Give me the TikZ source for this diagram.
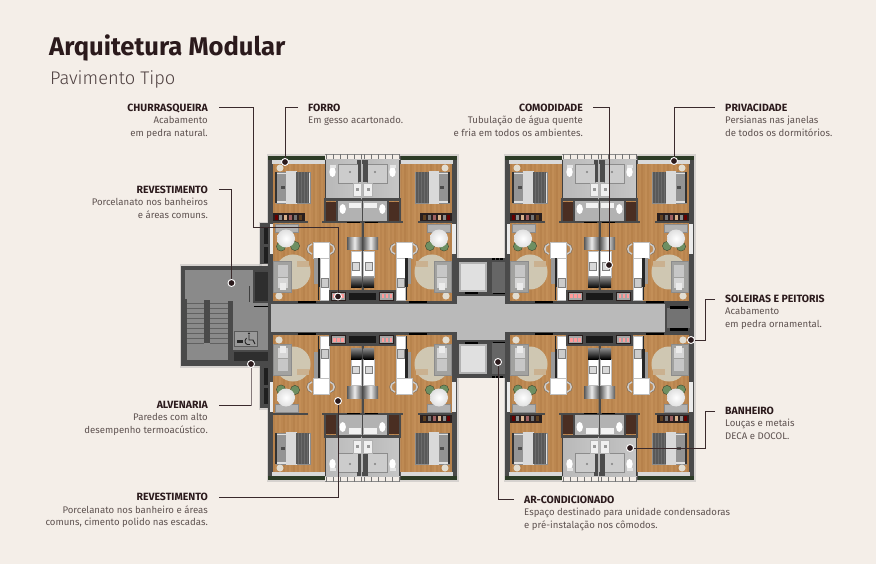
\documentclass[tikz,border=0pt]{standalone}
\usepackage{fontspec}
\setmainfont{Fira Sans}
\newfontfamily\lightf{Fira Sans Light}
\definecolor{paper}{HTML}{F4EEE8}
\definecolor{ink}{HTML}{2B1A1C}
\definecolor{bodytxt}{HTML}{5E5250}
\definecolor{leadc}{HTML}{3A2A2C}
\definecolor{leadb}{HTML}{85797A}
\definecolor{wallc}{HTML}{4A4A4A}
\definecolor{wallb}{HTML}{5E5E5E}
\definecolor{woodA}{HTML}{C49059}
\definecolor{woodB}{HTML}{B5804A}
\definecolor{concr}{HTML}{8A8A8A}
\definecolor{brownw}{HTML}{4A2E22}
\definecolor{hedge}{HTML}{2C3B26}
\definecolor{leaf}{HTML}{6E8F62}
\definecolor{rugc}{HTML}{CFC7B2}
\definecolor{sofac}{HTML}{A2A2A0}
\definecolor{shelfc}{HTML}{2A1F1E}
\tikzset{
  lead/.style={draw=leadc,line width=.8pt},
  leadlight/.style={draw=leadb,line width=1pt},
  dotm/.style={circle,fill=ink,draw=white,line width=.9pt,minimum size=7pt,inner sep=0pt},
  lblR/.style={anchor=north east,align=right,inner sep=0pt,text=bodytxt,font=\fontsize{9.6}{12.5}\selectfont},
  lblL/.style={anchor=north west,align=left,inner sep=0pt,text=bodytxt,font=\fontsize{9.6}{12.5}\selectfont}
}
\newcommand{\hd}[1]{{\color{ink}\fontsize{10.5}{12.5}\bfseries\selectfont #1}}
\newcommand{\UnitApt}[1]{%
  % shell
  \fill[wallc] (268,156) rectangle (363.5,304);
  % wood floor
  \begin{scope}
    \clip (273,164) rectangle (361.5,301);
    \foreach \i in {0,...,44}{
      \pgfmathtruncatemacro{\p}{mod(\i*37,23)*4+6}
      \fill[woodA!\p!woodB] ({273+2*\i},164) rectangle ({275.1+2*\i},301);
    }
  \end{scope}
  % hedge and sill
  \fill[hedge] (268,156) rectangle (324.5,160);
  \fill[black!15!white] (272,160) rectangle (324.5,164);
  % glass on side wall
  \fill[black!8!white] (269.5,224) rectangle (272.8,254);
  % balustrade
  \fill[paper] (325,154) rectangle (363.5,160);
  \draw[black!45,line width=.5pt] (325,154.5) -- (363.5,154.5);
  \foreach \t in {326,333,340,347,354,361}{\draw[black!55,line width=.6pt] (\t,154.5) -- (\t,160);}
  % bathroom
  \shade[left color=black!28,right color=black!22] (325,160) rectangle (363.5,200);
  \fill[black!20,draw=black!45,line width=.4pt] (338,164) rectangle (358,183);
  \fill[black!70] (357.5,164) rectangle (362,182);
  \fill[black!70] (357,160) rectangle (363.5,164);
  \fill[white] (332.5,172) ellipse (3.2pt and 5pt);
  \fill[black!10] (329.5,165) rectangle (335.5,168);
  \fill[black!50] (350,172) circle (1.2pt);
  \fill[black!6,draw=black!30,line width=.3pt] (353,183) rectangle (361.5,196);
  \fill[black!40] (355.5,188) rectangle (358.5,191);
  \fill[wallc] (324,198) rectangle (363.5,201);
  \fill[black!75] (325,160) rectangle (326.2,198);
  % washroom and wardrobe
  \fill[black!30] (337,201) rectangle (362,222);
  \fill[brownw] (326,202) rectangle (336,221);
  \fill[wallc] (336,201) rectangle (338,222);
  \fill[wallc] (324,201) rectangle (325.6,222);
  \fill[white] (342.7,209) ellipse (3.2pt and 5pt);
  \fill[black!5,draw=black!30,line width=.3pt] (348,202) rectangle (361.5,208.5);
  \fill[wallc] (322,221.5) rectangle (363.5,223.5);
  \fill[black] (347,221.8) rectangle (360,223);
  % bedroom wall, shelf
  \ifnum#1=1
    \fill[shelfc] (273,213) rectangle (305,221.5);
    \foreach \a/\c in {275/red!40!black,279/black!45,284/brown!60,289/red!25!gray,294/black!55,299/brown!50!black}{
      \fill[\c] (\a,215) rectangle ({\a+3},220);}
  \fi
  \fill[wallc] (273,221.5) rectangle (307.5,223.5);
  % bed
  \fill[black!12,draw=black!45,line width=.3pt] (276,172) rectangle (310,203);
  \fill[black!80] (275,172) rectangle (277,203);
  \fill[black!42] (277,174) rectangle (287,201);
  \fill[black!70] (281,186) rectangle (285,189);
  \fill[black!15] (286,171) rectangle (296.5,204);
  \fill[black!65] (296,172.5) rectangle (309,203);
  \foreach \t in {298,301,304,307}{\draw[black!58,line width=.4pt] (\t,172.5) -- (\t,203);}
  % corner tables
  \fill[rugc!60!white] (280,168) circle (3.5pt);
  \fill[rugc!60!white] (279,296) circle (3.6pt);
  % dining
  \fill[black!30!white,draw=black!45,line width=.3pt] (275,224) rectangle (298,232);
  \fill[leaf,draw=hedge,line width=.3pt] (281,246.5) circle (4.6pt);
  \fill[leaf,draw=hedge,line width=.3pt] (295,246) circle (4.6pt);
  \shade[inner color=white,outer color=black!12] (286,238.5) circle (9pt);
  % rug and sofa
  \fill[rugc] (293,272) circle (17.5pt);
  \fill[rugc!70!brown] (297,261) rectangle (309,267);
  \fill[sofac,draw=black!45,line width=.3pt] (273.5,261) rectangle (291,292);
  \fill[black!22] (278,265) rectangle (288,277);
  \fill[black!16] (278,278) rectangle (288,288);
  \fill[black!8] (280,283) rectangle (286,290);
  % counter with stools
  \draw[black!20,line width=1.5pt] (312,244) .. controls (306.5,245) and (306.5,253) .. (312,254);
  \draw[black!20,line width=1.5pt] (330,244) .. controls (335.5,245) and (335.5,253) .. (330,254);
  \draw[black!60,line width=.3pt] (311,243.5) .. controls (305,245) and (305,253) .. (311,254.5);
  \draw[black!60,line width=.3pt] (331,243.5) .. controls (337,245) and (337,253) .. (331,254.5);
  \fill[white,draw=black!25,line width=.3pt] (313,242) rectangle (329,258);
  \fill[white,draw=black!25,line width=.3pt] (320,258) rectangle (329,300);
  \fill[black!40] (314,258) rectangle (317.5,284);
  \fill[black!85] (317.5,258) rectangle (320,287);
  \fill[black!85] (318.3,287) rectangle (319.3,300);
  \fill[black!20,draw=black!50,line width=.3pt] (321,278) rectangle (328,287);
  % partition wall, kitchen
  \fill[wallc] (361.5,222) rectangle (363.5,292);
  \shade[left color=black!65,right color=black!65,middle color=black!8] (347,238) rectangle (362,250);
  \fill[white,draw=black!25,line width=.3pt] (351,251) rectangle (361.5,277);
  \fill[black!15,draw=black!50,line width=.4pt] (352.5,262.5) rectangle (359.5,270);
  \shade[top color=black!45,bottom color=black] (351,277) rectangle (361.5,288);
  % service strip
  \fill[wallc] (329,290.5) rectangle (363.5,304);
  \fill[shelfc] (331,292) rectangle (346,301);
  \fill[black!35] (332,293.5) rectangle (345,300);
  \foreach \a in {333,337,341}{\fill[red!40!white] (\a,294.5) rectangle ({\a+2.5},298.5);}
  \fill[black!90] (349,293) rectangle (363.5,300.5);
  \fill[black] (298,301.3) rectangle (316,303.3);
}
\newcommand{\MidRoom}{%
  \fill[wallc] (457,258) rectangle (505,296);
  \fill[black!30] (459,262) rectangle (487,292);
  \fill[black!12] (461,264) rectangle (485,290);
  \fill[black!60] (492,262) rectangle (505,293);
  \fill[black] (465,292) rectangle (478,294);
  \fill[black] (493,293) rectangle (505,294.5);
  \foreach \t in {492,496,500}{\fill[black] (\t,258) rectangle ({\t+3},260.5);}
}
\begin{document}
\begin{tikzpicture}[x=1pt,y=-1pt]
\useasboundingbox (0,0) rectangle (876,564);
\fill[paper] (0,0) rectangle (876,564);
% soft shadow
\foreach \a/\b/\c/\d in {268/156/457/480,505/156/694/480,181/266/270/366,260/224/270/408}{
  \draw[black!30,line width=3pt,opacity=.45] (\a,\b) rectangle (\c,\d);}
% stair core
\fill[wallc] (181,266) rectangle (272,366);
\fill[concr] (185,270) rectangle (270,360);
\fill[black!72] (253,270) rectangle (270,303);
\fill[black!82] (255,272) rectangle (268.5,301);
\foreach \s in {303,308,...,343}{
  \draw[black!62,line width=.4pt] (186,\s) -- (204,\s);
  \draw[black!62,line width=.4pt] (210,\s) -- (228,\s);}
\fill[wallc] (204,300) rectangle (210,343);
\fill[wallc] (228,301) rectangle (233,360);
\fill[wallc] (185,299) rectangle (186.5,360);
\fill[wallc] (185,360) rectangle (272,366);
\fill[wallc] (232,350) rectangle (272,362);
\fill[black!82] (234,351.5) rectangle (269,361);
\fill[black!40,draw=black!65,line width=.5pt] (234.5,331) rectangle (257,346);
\draw[black!85,line width=.9pt] (249,335) -- (249,340) -- (253,340) -- (255,344);
\draw[black!85,line width=.9pt] (246.5,338) .. controls (243,341) and (246,346) .. (250,344.5);
\fill[black!85] (249,333.5) circle (1.1pt);
\fill[black!85] (237,340) rectangle (243,343);
\fill[black] (254,306.5) rectangle (271,307.5);
\fill[wallc] (269.5,307) rectangle (271.5,323);
\fill[black!75] (249,286) rectangle (250,302);
% side extensions
\fill[wallc] (260,223) rectangle (272,264);
\fill[black!88] (264,228) rectangle (268.5,244.5);
\fill[black!88] (264,247) rectangle (268.5,263);
\fill[wallc] (260,366) rectangle (272,408);
\fill[black!88] (264,368) rectangle (268.5,385);
\fill[black!88] (264,388) rectangle (268.5,404);
% corridor
\fill[wallc] (268,301) rectangle (694,335);
\fill[black!27] (271,304) rectangle (665,332);
\fill[black!27] (457,295) rectangle (505,342);
% end box
\fill[wallc] (665,303) rectangle (694,333);
\fill[black!55] (667,308) rectangle (690,328);
\fill[black] (670,306) rectangle (688,308.5);
\fill[black] (670,327.5) rectangle (688,331);
% mid rooms
\MidRoom
\begin{scope}[cm={1,0,0,-1,(0pt,-636pt)}]\MidRoom\end{scope}
% apartments, left block
\begin{scope}\UnitApt{1}\end{scope}
\begin{scope}[cm={-1,0,0,1,(725pt,0pt)}]\UnitApt{1}\end{scope}
\begin{scope}[cm={1,0,0,-1,(0pt,-636pt)}]\UnitApt{0}\end{scope}
\begin{scope}[cm={-1,0,0,-1,(725pt,-636pt)}]\UnitApt{1}\end{scope}
% apartments, right block
\begin{scope}[cm={1,0,0,1,(237pt,0pt)}]\UnitApt{1}\end{scope}
\begin{scope}[cm={-1,0,0,1,(962pt,0pt)}]\UnitApt{1}\end{scope}
\begin{scope}[cm={1,0,0,-1,(237pt,-636pt)}]\UnitApt{1}\end{scope}
\begin{scope}[cm={-1,0,0,-1,(962pt,-636pt)}]\UnitApt{1}\end{scope}
% titles
\node[anchor=base west,inner sep=0pt,text=ink,font=\fontsize{25.6}{28}\bfseries\selectfont] (title) at (49,56) {Arquitetura Modular};
\node[anchor=base west,inner sep=0pt,text=bodytxt!70!ink,font=\fontsize{18.3}{22}\lightf\selectfont] (subtitle) at (50,85) {Pavimento Tipo};
% labels
\node[lblR] (tA) at (208,103.5) {\hd{CHURRASQUEIRA}\\Acabamento\\em pedra natural.};
\node[lblL] (tB) at (308,103.5) {\hd{FORRO}\\Em gesso acartonado.};
\node[lblR] (tC) at (583,103.5) {\hd{COMODIDADE}\\Tubulação de água quente\\e fria em todos os ambientes.};
\node[lblL] (tD) at (725,103.5) {\hd{PRIVACIDADE}\\Persianas nas janelas\\de todos os dormitórios.};
\node[lblR] (tE) at (208,185.5) {\hd{REVESTIMENTO}\\Porcelanato nos banheiros\\e áreas comuns.};
\node[lblR] (tF) at (208,401) {\hd{ALVENARIA}\\Paredes com alto\\desempenho termoacústico.};
\node[lblR] (tG) at (208,493) {\hd{REVESTIMENTO}\\Porcelanato nos banheiro e áreas\\comuns, cimento polido nas escadas.};
\node[lblL] (tH) at (524,495.5) {\hd{AR-CONDICIONADO}\\Espaço destinado para unidade condensadoras\\e pré-instalação nos cômodos.};
\node[lblL] (tI) at (725,294.5) {\hd{SOLEIRAS E PEITORIS}\\Acabamento\\em pedra ornamental.};
\node[lblL] (tJ) at (725,406.5) {\hd{BANHEIRO}\\Louças e metais\\DECA e DOCOL.};
% markers
\node[dotm] (dA) at (338,296.5) {};
\node[dotm] (dB) at (285,162) {};
\node[dotm] (dC) at (609,265) {};
\node[dotm] (dD) at (674,161) {};
\node[dotm] (dE) at (231.5,283) {};
\node[dotm] (dF) at (251,364) {};
\node[dotm] (dG) at (338,401) {};
\node[dotm] (dH) at (498,362) {};
\node[dotm] (dI) at (691,340) {};
\node[dotm] (dJ) at (630,448) {};
% connector ends
\coordinate (cA) at (219,107.5); \coordinate (cA2) at (253,227.5);
\coordinate (cB) at (298,107.5);
\coordinate (cC) at (593,107.5);
\coordinate (cD) at (715,107.5);
\coordinate (cE) at (219,189.5);
\coordinate (cF) at (219,405.5); \coordinate (cF2) at (251,405.5);
\coordinate (cG) at (219,497);
\coordinate (cH) at (514,499.5);
\coordinate (cI) at (715,299);
\coordinate (cJ) at (715,411);
\coordinate (cI2) at (705,340);
\coordinate (cJ2) at (705,448);
\draw[lead] (cA) -| (cA2) -| (dA);
\draw[lead] (cB) -| (dB);
\draw[lead] (cC) -| (dC);
\draw[lead] (cD) -| (dD);
\draw[lead] (cE) -| (dE);
\draw[lead] (cF) -- (cF2);
\draw[leadlight] (cF2) -- (dF);
\draw[lead] (cG) -| (dG);
\draw[lead] (cH) -| (dH);
\draw[lead] (cI) -| (cI2) -- (dI);
\draw[lead] (cJ) -| (cJ2) -- (dJ);
\end{tikzpicture}
\end{document}
